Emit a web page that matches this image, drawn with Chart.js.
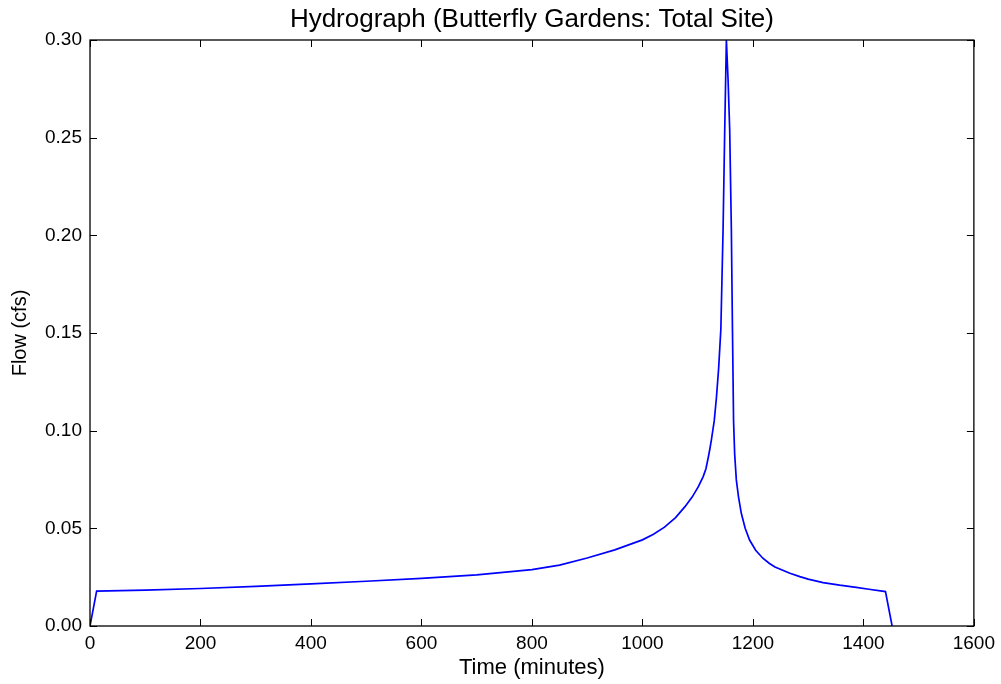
<!DOCTYPE html>
<html>
<head>
<meta charset="utf-8">
<script src="https://cdn.jsdelivr.net/npm/chart.js@4"></script>
<style>
html,body{margin:0;padding:0;background:#fff;}
#wrap{width:1001px;height:684px;position:relative;}
</style>
</head>
<body>
<div id="wrap"><canvas id="c" width="1001" height="684"></canvas></div>
<script>
const titleText = 'Hydrograph (Butterfly Gardens: Total Site)';
const xLabel = 'Time (minutes)';
const yLabel = 'Flow (cfs)';
const timeMinutes = [0, 12, 100, 200, 300, 400, 500, 600, 700, 800, 850, 900, 950, 1000, 1020, 1040, 1060, 1077, 1090, 1101, 1110, 1115, 1119, 1122, 1125, 1130, 1134, 1138, 1142, 1146, 1149, 1152, 1155, 1158, 1161, 1163, 1165, 1167, 1170, 1174, 1179, 1186, 1194, 1205, 1218, 1230, 1240, 1267, 1285, 1300, 1327, 1357, 1387, 1410, 1440, 1452];
const flowCfs =     [0, 0.0179, 0.0184, 0.0192, 0.0203, 0.0216, 0.0229, 0.0244, 0.0262, 0.0289, 0.0312, 0.0348, 0.0390, 0.0441, 0.0470, 0.0506, 0.0555, 0.0611, 0.0660, 0.0712, 0.0765, 0.0805, 0.0860, 0.0905, 0.0955, 0.105, 0.117, 0.132, 0.152, 0.203, 0.254, 0.300, 0.280, 0.254, 0.203, 0.152, 0.105, 0.088, 0.0748, 0.0660, 0.0577, 0.0500, 0.0440, 0.0388, 0.0347, 0.0320, 0.0302, 0.0270, 0.0253, 0.0240, 0.0222, 0.0209, 0.0198, 0.0188, 0.0176, 0];
const xTicks = [0, 200, 400, 600, 800, 1000, 1200, 1400, 1600];
const yTicks = [0, 0.05, 0.10, 0.15, 0.20, 0.25, 0.30];

const points = timeMinutes.map((t, i) => ({x: t, y: flowCfs[i]}));
const FONT = '"Liberation Sans", Arial, sans-serif';

const boxTicks = {
  id: 'boxTicks',
  afterDraw(chart) {
    const {ctx, chartArea: a, scales} = chart;
    ctx.save();
    ctx.strokeStyle = '#000';
    ctx.lineWidth = 1;
    const L = 7;
    xTicks.forEach(v => {
      const px = Math.round(scales.x.getPixelForValue(v)) + 0.5;
      ctx.beginPath();
      ctx.moveTo(px, a.bottom); ctx.lineTo(px, a.bottom - L);
      ctx.moveTo(px, a.top); ctx.lineTo(px, a.top + L);
      ctx.stroke();
    });
    yTicks.forEach(v => {
      const py = Math.round(scales.y.getPixelForValue(v)) + 0.5;
      ctx.beginPath();
      ctx.moveTo(a.left, py); ctx.lineTo(a.left + L, py);
      ctx.moveTo(a.right, py); ctx.lineTo(a.right - L, py);
      ctx.stroke();
    });
    ctx.lineWidth = 1.3;
    ctx.strokeRect(a.left, a.top, a.right - a.left, a.bottom - a.top);
    ctx.restore();
  }
};

new Chart(document.getElementById('c'), {
  type: 'line',
  data: {
    datasets: [{
      data: points,
      borderColor: '#0000ff',
      borderWidth: 1.7,
      pointRadius: 0,
      tension: 0,
      fill: false
    }]
  },
  options: {
    responsive: false,
    animation: false,
    layout: {padding: {left: 0, right: 25, top: 0, bottom: 0}},
    plugins: {
      legend: {display: false},
      tooltip: {enabled: false},
      title: {
        display: true,
        fullSize: false,
        text: titleText,
        color: '#000',
        font: {family: FONT, size: 26, weight: 'normal'},
        padding: {top: 4.4, bottom: 4.4}
      }
    },
    scales: {
      x: {
        type: 'linear',
        min: 0, max: 1600,
        afterBuildTicks: s => { s.ticks = xTicks.map(v => ({value: v})); },
        afterFit: s => { s.height = 58; },
        grid: {display: false, drawTicks: false},
        border: {display: false},
        ticks: {color: '#000', font: {family: FONT, size: 19}, padding: 6, maxRotation: 0,
                callback: v => String(v)},
        title: {display: true, text: xLabel, color: '#000', font: {family: FONT, size: 22},
                padding: {top: 0, bottom: 3}}
      },
      y: {
        type: 'linear',
        min: 0, max: 0.3,
        afterBuildTicks: s => { s.ticks = yTicks.map(v => ({value: v})); },
        afterFit: s => { s.width = 90; },
        grid: {display: false, drawTicks: false},
        border: {display: false},
        ticks: {color: '#000', font: {family: FONT, size: 19}, padding: 8,
                callback: v => Number(v).toFixed(2)},
        title: {display: true, text: yLabel, color: '#000', font: {family: FONT, size: 20},
                padding: {top: 8, bottom: 0}}
      }
    }
  },
  plugins: [boxTicks]
});
</script>
</body>
</html>
